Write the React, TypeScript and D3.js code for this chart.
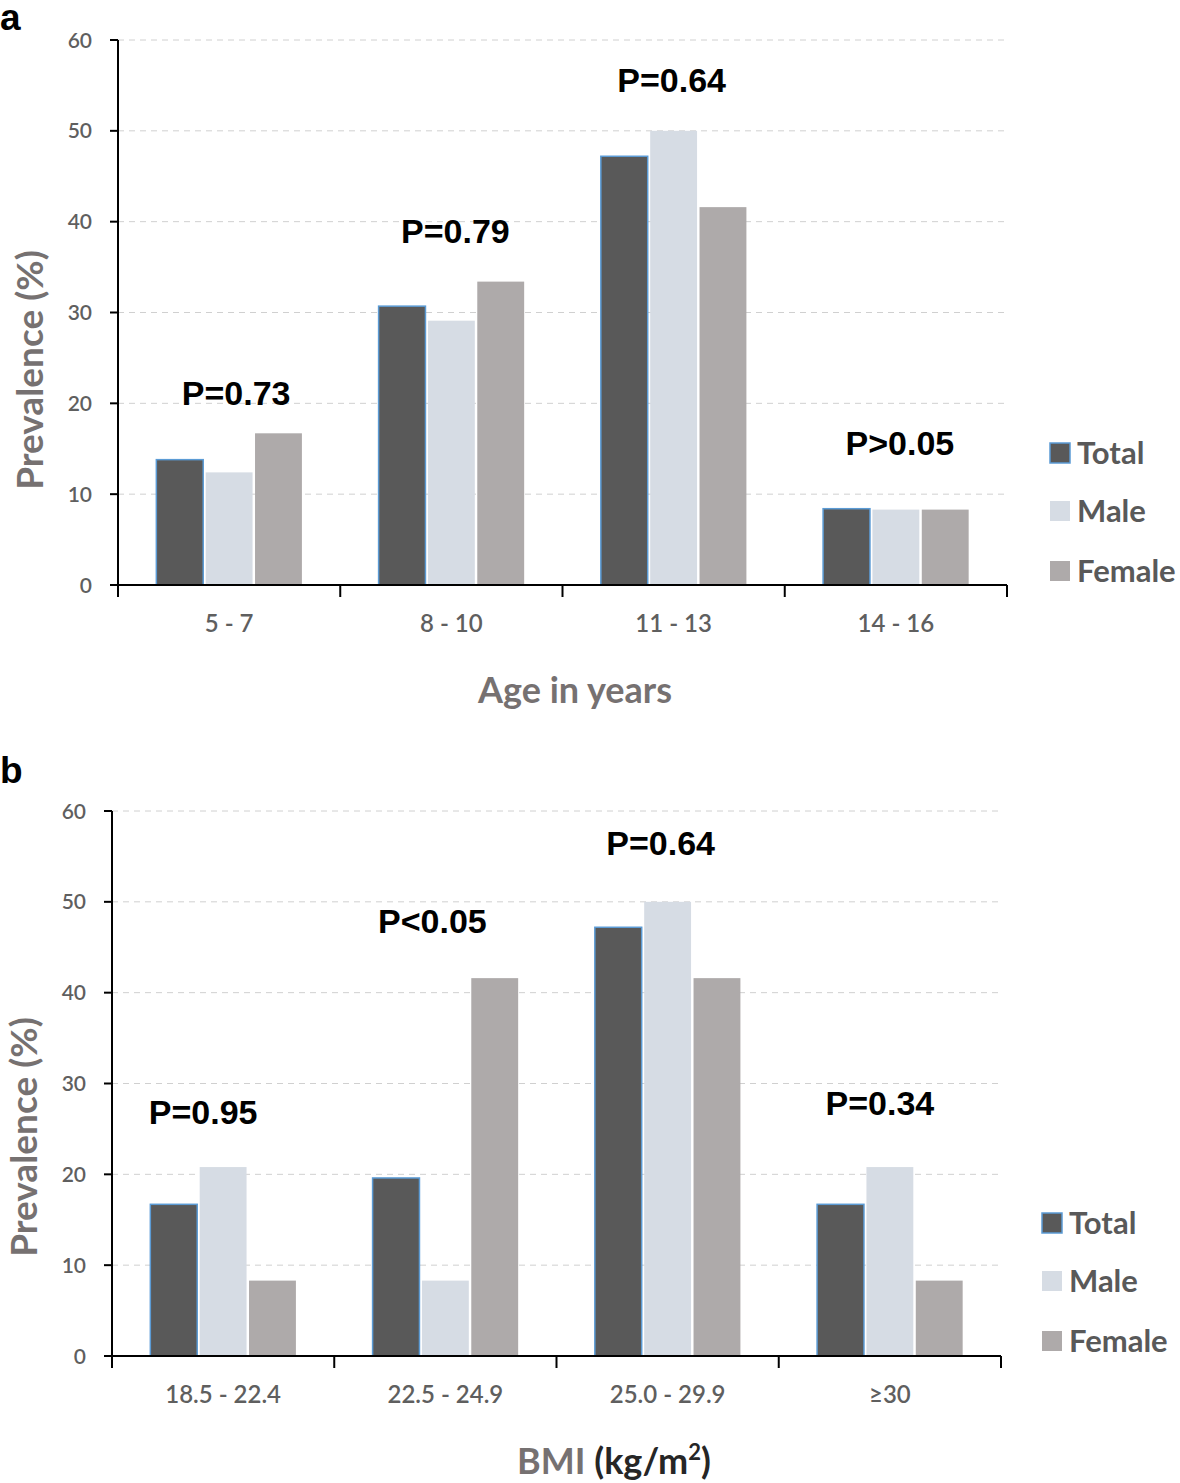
import React from "react";
import * as d3 from "d3";

// panel a: age groups
const ageGroups = ["5 - 7", "8 - 10", "11 - 13", "14 - 16"];
const ageTotal = [13.8, 30.7, 47.2, 8.4];
const ageMale = [12.4, 29.1, 50.0, 8.3];
const ageFemale = [16.7, 33.4, 41.6, 8.3];
const ageP = ["P=0.73", "P=0.79", "P=0.64", "P>0.05"];
const agePAt = [21.2, 39.0, 55.6, 15.7];

// panel b: BMI groups
const bmiGroups = ["18.5 - 22.4", "22.5 - 24.9", "25.0 - 29.9", "\u226530"];
const bmiTotal = [16.7, 19.6, 47.2, 16.7];
const bmiMale = [20.8, 8.3, 50.0, 20.8];
const bmiFemale = [8.3, 41.6, 41.6, 8.3];
const bmiP = ["P=0.95", "P<0.05", "P=0.64", "P=0.34"];
const bmiPAt = [26.9, 47.9, 56.5, 27.9];

const seriesNames = ["Total", "Male", "Female"];
const yTicks = [0, 10, 20, 30, 40, 50, 60];

const colors: Record<string, string> = {
  Total: "#595959",
  Male: "#d6dce4",
  Female: "#aeaaaa",
};

const labelFont = "Lato, 'Open Sans', sans-serif";
const pFont = "'Liberation Sans', Arial, sans-serif";

type PanelProps = {
  letter: string;
  letterY: number;
  x0: number;
  x1: number;
  yTop: number;
  yBottom: number;
  groups: string[];
  total: number[];
  male: number[];
  female: number[];
  pLabels: string[];
  pAt: number[];
  pDx: number[];
  yTitleX: number;
  yTitleY: number;
  xTitle: React.ReactNode;
  xTitleX: number;
  legendX: number;
  legendY: number[];
};

const Panel = (p: PanelProps) => {
  const x = d3.scaleBand<string>().domain(p.groups).range([p.x0, p.x1]).padding(0);
  const y = d3.scaleLinear().domain([0, 60]).range([p.yBottom, p.yTop]);
  const groupW = x.bandwidth() * 0.655;
  const xs = d3
    .scaleBand<string>()
    .domain(seriesNames)
    .range([-groupW / 2, groupW / 2])
    .paddingInner(0.05);

  const rows = p.groups.map((g, i) => ({
    group: g,
    Total: p.total[i],
    Male: p.male[i],
    Female: p.female[i],
  }));

  const bounds = [...p.groups.map((g) => x(g) as number), p.x1];

  return (
    <g>
      <text x={0} y={p.letterY} fontFamily={pFont} fontWeight="bold" fontSize={37} fill="#000">
        {p.letter}
      </text>

      {/* gridlines */}
      {yTicks.filter((t) => t > 0).map((t) => (
        <line
          key={"g" + t}
          x1={p.x0}
          x2={p.x1}
          y1={y(t)}
          y2={y(t)}
          stroke="#d0d0d0"
          strokeWidth={1}
          strokeDasharray="6,5"
        />
      ))}

      {/* bars */}
      {rows.map((r) =>
        seriesNames.map((s) => {
          const v = (r as any)[s] as number;
          const cx = (x(r.group) as number) + x.bandwidth() / 2;
          return (
            <rect
              key={r.group + s}
              x={cx + (xs(s) as number)}
              y={y(v)}
              width={xs.bandwidth()}
              height={p.yBottom - y(v)}
              fill={colors[s]}
              stroke={s === "Total" ? "#5b9bd5" : "none"}
              strokeWidth={1.5}
            />
          );
        })
      )}

      {/* y axis */}
      <line x1={p.x0} x2={p.x0} y1={p.yTop} y2={p.yBottom} stroke="#000" strokeWidth={2} />
      {yTicks.map((t) => (
        <g key={"t" + t}>
          <line x1={p.x0 - 8} x2={p.x0} y1={y(t)} y2={y(t)} stroke="#000" strokeWidth={2} />
          <text
            x={p.x0 - 26}
            y={y(t)}
            dy="0.36em"
            textAnchor="end"
            fontFamily={labelFont}
            fontWeight={600}
            fontSize={21}
            fill="#5f5f5f"
          >
            {t}
          </text>
        </g>
      ))}

      {/* x axis */}
      <line x1={p.x0} x2={p.x1} y1={p.yBottom} y2={p.yBottom} stroke="#000" strokeWidth={2} />
      {bounds.map((b, i) => (
        <line key={"b" + i} x1={b} x2={b} y1={p.yBottom} y2={p.yBottom + 12} stroke="#000" strokeWidth={2} />
      ))}
      {p.groups.map((g) => (
        <text
          key={"xl" + g}
          x={(x(g) as number) + x.bandwidth() / 2}
          y={p.yBottom + 47}
          textAnchor="middle"
          fontFamily={labelFont}
          fontWeight={600}
          fontSize={24}
          fill="#5f5f5f"
        >
          {g}
        </text>
      ))}

      {/* p values */}
      {p.groups.map((g, i) => (
        <text
          key={"p" + g}
          x={(x(g) as number) + x.bandwidth() / 2 + p.pDx[i]}
          y={y(p.pAt[i])}
          dy="0.36em"
          textAnchor="middle"
          fontFamily={pFont}
          fontWeight="bold"
          fontSize={34}
          fill="#000"
        >
          {p.pLabels[i]}
        </text>
      ))}

      {/* axis titles */}
      <text
        transform={`translate(${p.yTitleX},${p.yTitleY}) rotate(-90)`}
        textAnchor="middle"
        dy="0.36em"
        fontFamily={labelFont}
        fontWeight="bold"
        fontSize={37}
        fill="#767171"
      >
        Prevalence (%)
      </text>
      <text
        x={p.xTitleX}
        y={p.yBottom + 118}
        textAnchor="middle"
        fontFamily={labelFont}
        fontWeight="bold"
        fontSize={36}
        fill="#767171"
      >
        {p.xTitle}
      </text>

      {/* legend */}
      {seriesNames.map((s, i) => (
        <g key={"lg" + s}>
          <rect
            x={p.legendX}
            y={p.legendY[i] - 10}
            width={20}
            height={20}
            fill={colors[s]}
            stroke={s === "Total" ? "#5b9bd5" : "none"}
            strokeWidth={1.5}
          />
          <text
            x={p.legendX + 27}
            y={p.legendY[i]}
            dy="0.36em"
            fontFamily={labelFont}
            fontWeight="bold"
            fontSize={31}
            fill="#595959"
          >
            {s}
          </text>
        </g>
      ))}
    </g>
  );
};

const App = () => {
  return (
    <div style={{ position: "absolute", left: 0, top: 0 }}>
      <svg width={1180} height={1483} style={{ display: "block", background: "#fff" }}>
        <Panel
          letter="a"
          letterY={30}
          x0={118}
          x1={1007}
          yTop={40}
          yBottom={585}
          groups={ageGroups}
          total={ageTotal}
          male={ageMale}
          female={ageFemale}
          pLabels={ageP}
          pAt={agePAt}
          pDx={[7, 4, -2, 4]}
          yTitleX={30}
          yTitleY={370}
          xTitle="Age in years"
          xTitleX={575}
          legendX={1050}
          legendY={[453, 511, 571]}
        />
        <Panel
          letter="b"
          letterY={783}
          x0={112}
          x1={1001}
          yTop={811}
          yBottom={1356}
          groups={bmiGroups}
          total={bmiTotal}
          male={bmiMale}
          female={bmiFemale}
          pLabels={bmiP}
          pAt={bmiPAt}
          pDx={[-20, -13, -7, -10]}
          yTitleX={24}
          yTitleY={1137}
          xTitle={
            <>
              <tspan>BMI </tspan>
              <tspan fill="#262626">(kg/m</tspan>
              <tspan fill="#262626" fontSize={22} dy={-14}>2</tspan>
              <tspan fill="#262626" dy={14}>)</tspan>
            </>
          }
          xTitleX={614}
          legendX={1042}
          legendY={[1223, 1281, 1341]}
        />
      </svg>
    </div>
  );
};

export default App;
